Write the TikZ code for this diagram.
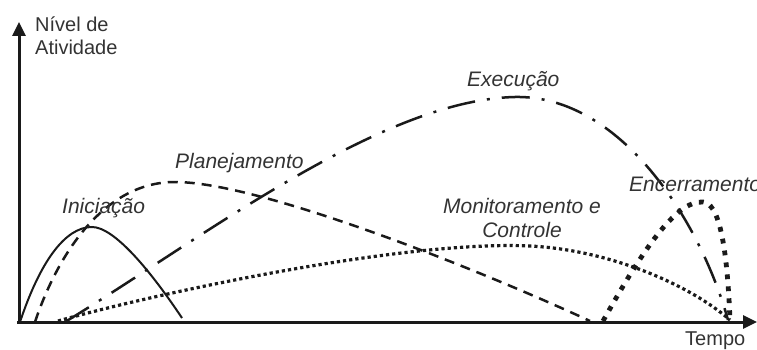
\documentclass[tikz,border=0pt]{standalone}
\usepackage{fontspec}
\setmainfont{Liberation Sans}
\usetikzlibrary{arrows.meta}
\definecolor{ink}{HTML}{1A1A1A}
\definecolor{labelgray}{HTML}{333333}
\begin{document}
\begin{tikzpicture}[x=1pt,y=-1pt,
  axisline/.style={line width=3pt, draw=ink, -{Triangle[length=14pt,width=13pt]}},
  axislabel/.style={anchor=base west, inner sep=0pt, text=labelgray,
    font=\fontsize{20}{24}\selectfont},
  phaselabel/.style={anchor=base west, inner sep=0pt, text=labelgray,
    font=\fontsize{21}{25}\selectfont\itshape},
  initcurve/.style={draw=ink, line width=2pt},
  plancurve/.style={draw=ink, line width=2.5pt, dash pattern=on 10pt off 7pt},
  execcurve/.style={draw=ink, line width=2.5pt,
    dash pattern=on 28pt off 12pt on 3pt off 12pt},
  monitcurve/.style={draw=ink, line width=3.2pt, dash pattern=on 3.2pt off 3pt},
  closecurve/.style={draw=ink, line width=4.8pt, dash pattern=on 4.8pt off 7.2pt}
]
\useasboundingbox (0,0) rectangle (757,350);

% axes
\coordinate (ybase) at (19,323.5);
\coordinate (ytop) at (19,22);
\coordinate (xbase) at (17,322);
\coordinate (xend) at (757,322);
\draw[axisline] (ybase) -- (ytop);
\draw[axisline] (xbase) -- (xend);

\node[axislabel] (ylab1) at (35,32) {Nível de};
\node[axislabel] (ylab2) at (35,55) {Atividade};
\node[axislabel] (xlab) at (685,345) {Tempo};

% phase curves
\draw[initcurve] (20,322) .. controls (40,262) and (65,227) .. (92,227)
  .. controls (114,227) and (150,270) .. (182,318);
\draw[plancurve] (35,322) .. controls (55,262) and (100,182) .. (175,182)
  .. controls (260,182) and (480,270) .. (590,321);
\draw[execcurve] (65,322) .. controls (200,240) and (380,100) .. (515,97)
  .. controls (620,95) and (700,220) .. (728,320);
\draw[monitcurve] (58,321) .. controls (150,295) and (400,240) .. (530,246)
  .. controls (610,250) and (690,285) .. (730,320);
\draw[closecurve] (603,321) .. controls (640,255) and (675,200) .. (703,202)
  .. controls (718,203) and (727,240) .. (730,321);

% phase labels
\node[phaselabel] (lini) at (62,213) {Iniciação};
\node[phaselabel] (lplan) at (175,168) {Planejamento};
\node[phaselabel] (lexec) at (467,87) {Execução};
\node[phaselabel, anchor=base] (lmon1) at (522,213) {Monitoramento e};
\node[phaselabel, anchor=base] (lmon2) at (522,237) {Controle};
\node[phaselabel] (lenc) at (629,191) {Encerramento};
\end{tikzpicture}
\end{document}
